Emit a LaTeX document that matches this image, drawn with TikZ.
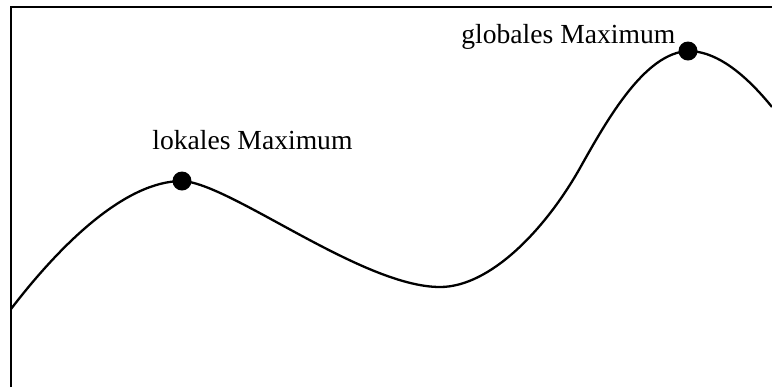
\documentclass[tikz,border=0pt]{standalone}
\usepackage{fontspec}
\setmainfont{Liberation Serif}
\begin{document}
\begin{tikzpicture}[x=0.5pt,y=-0.5pt,
  frame/.style={line width=1.3pt},
  curveline/.style={line width=1.15pt},
  maxdot/.style={circle,fill=black,inner sep=0pt,minimum size=9.5pt},
  lbl/.style={inner sep=0pt,anchor=base west,font=\fontsize{13.8}{16}\selectfont}]
\useasboundingbox (0,0) rectangle (772,387);
\coordinate (ytop) at (11,6);
\coordinate (ybot) at (11,387);
\coordinate (xl) at (10,7);
\coordinate (xr) at (772,7);
\draw[frame] (ybot) -- (ytop);
\draw[frame] (xl) -- (xr);
\coordinate (s) at (11,309);
\coordinate (lmc) at (182,181);
\coordinate (mn) at (440,287);
\coordinate (mid) at (580,168);
\coordinate (gmc) at (688,51);
\coordinate (e) at (772,107);
\draw[curveline] (s) .. controls (60,245) and (125,181) .. (lmc)
  .. controls (230,183) and (362,287) .. (mn)
  .. controls (490,287) and (545,230) .. (mid)
  .. controls (608,118) and (645,53) .. (gmc)
  .. controls (720,51) and (750,80) .. (e);
\node[maxdot] (lm) at (lmc) {};
\node[maxdot] (gm) at (gmc) {};
\node[lbl] (lmlabel) at (152,149) {lokales Maximum};
\node[lbl] (gmlabel) at (461,43) {globales Maximum};
\end{tikzpicture}
\end{document}
